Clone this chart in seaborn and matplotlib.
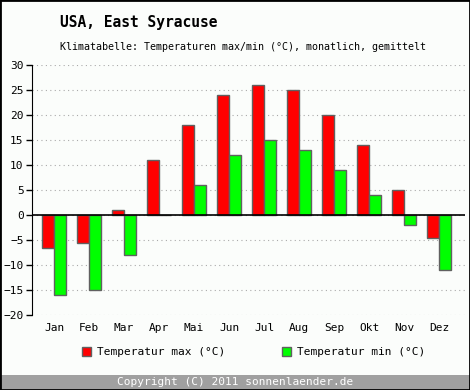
import pandas as pd
import matplotlib
matplotlib.use("Agg")
import matplotlib.pyplot as plt
import seaborn as sns
from matplotlib.patches import Rectangle

months = ["Jan", "Feb", "Mar", "Apr", "Mai", "Jun", "Jul", "Aug", "Sep", "Okt", "Nov", "Dez"]
t_max = [-6.5, -5.5, 1, 11, 18, 24, 26, 25, 20, 14, 5, -4.5]
t_min = [-16, -15, -8, 0, 6, 12, 15, 13, 9, 4, -2, -11]
series = ["Temperatur max (°C)", "Temperatur min (°C)"]
colors = ["#ff0000", "#00ff00"]

df = pd.DataFrame({
    "Monat": months * 2,
    "Wert": t_max + t_min,
    "Serie": [series[0]] * 12 + [series[1]] * 12,
})

sns.set_style("white")
plt.rcParams["font.family"] = ["DejaVu Sans Mono", "DejaVu Sans"]
plt.rcParams["text.color"] = "black"
plt.rcParams["xtick.color"] = "black"
plt.rcParams["ytick.color"] = "black"

fig = plt.figure(figsize=(4.7, 3.9), dpi=100)
fig.patch.set_facecolor("#fbfdfb")
ax = fig.add_axes([32 / 470, 1 - 315 / 390, 433 / 470, 250 / 390])
ax.set_facecolor("#fbfdfb")

sns.barplot(data=df, x="Monat", y="Wert", hue="Serie", palette=colors,
            width=0.68, edgecolor="#606060", linewidth=1, saturation=1,
            legend=False, ax=ax)

ax.set_xlim(-0.63, 11.74)
ax.set_ylim(-20, 30)
ax.set_yticks(range(-20, 31, 5))
ax.yaxis.grid(True, linestyle=(0, (1, 3)), color="#aaaaaa", linewidth=0.8)
ax.set_axisbelow(True)
ax.axhline(0, color="black", linewidth=1.2, zorder=1.5)
for s in ["top", "right", "bottom"]:
    ax.spines[s].set_visible(False)
ax.spines["left"].set_color("black")
ax.tick_params(axis="y", length=4, width=1, color="black", labelcolor="black",
               labelsize=8, pad=2, left=True)
ax.tick_params(axis="x", length=0, labelsize=8, labelcolor="black", pad=6)
ax.set_xlabel("")
ax.set_ylabel("")

fig.text(60 / 470, 1 - 22 / 390, "USA, East Syracuse", fontsize=10.5, fontweight="bold",
         color="black", va="center", ha="left")
fig.text(60 / 470, 1 - 47 / 390, "Klimatabelle: Temperaturen max/min (°C), monatlich, gemittelt",
         fontsize=7.2, color="black", va="center", ha="left")

# legend
for x0, c, lab in [(82, colors[0], series[0]), (282, colors[1], series[1])]:
    fig.patches.append(Rectangle((x0 / 470, 1 - 356 / 390), 9 / 470, 9 / 390,
                                 transform=fig.transFigure, facecolor=c,
                                 edgecolor="#606060", linewidth=1))
    fig.text((x0 + 15) / 470, 1 - 352 / 390, lab, fontsize=8, color="black",
             va="center", ha="left")

# footer
fig.patches.append(Rectangle((0, 0), 1, 15 / 390, transform=fig.transFigure,
                             facecolor="#a0a0a0", edgecolor="none"))
fig.text(0.5, 1 - 382 / 390, "Copyright (C) 2011 sonnenlaender.de", fontsize=8,
         color="white", va="center", ha="center")

# outer border
fig.patches.append(Rectangle((0, 0), 1, 1, transform=fig.transFigure, fill=False,
                             edgecolor="black", linewidth=2))

fig.savefig("out.png", dpi=100, facecolor=fig.get_facecolor())
